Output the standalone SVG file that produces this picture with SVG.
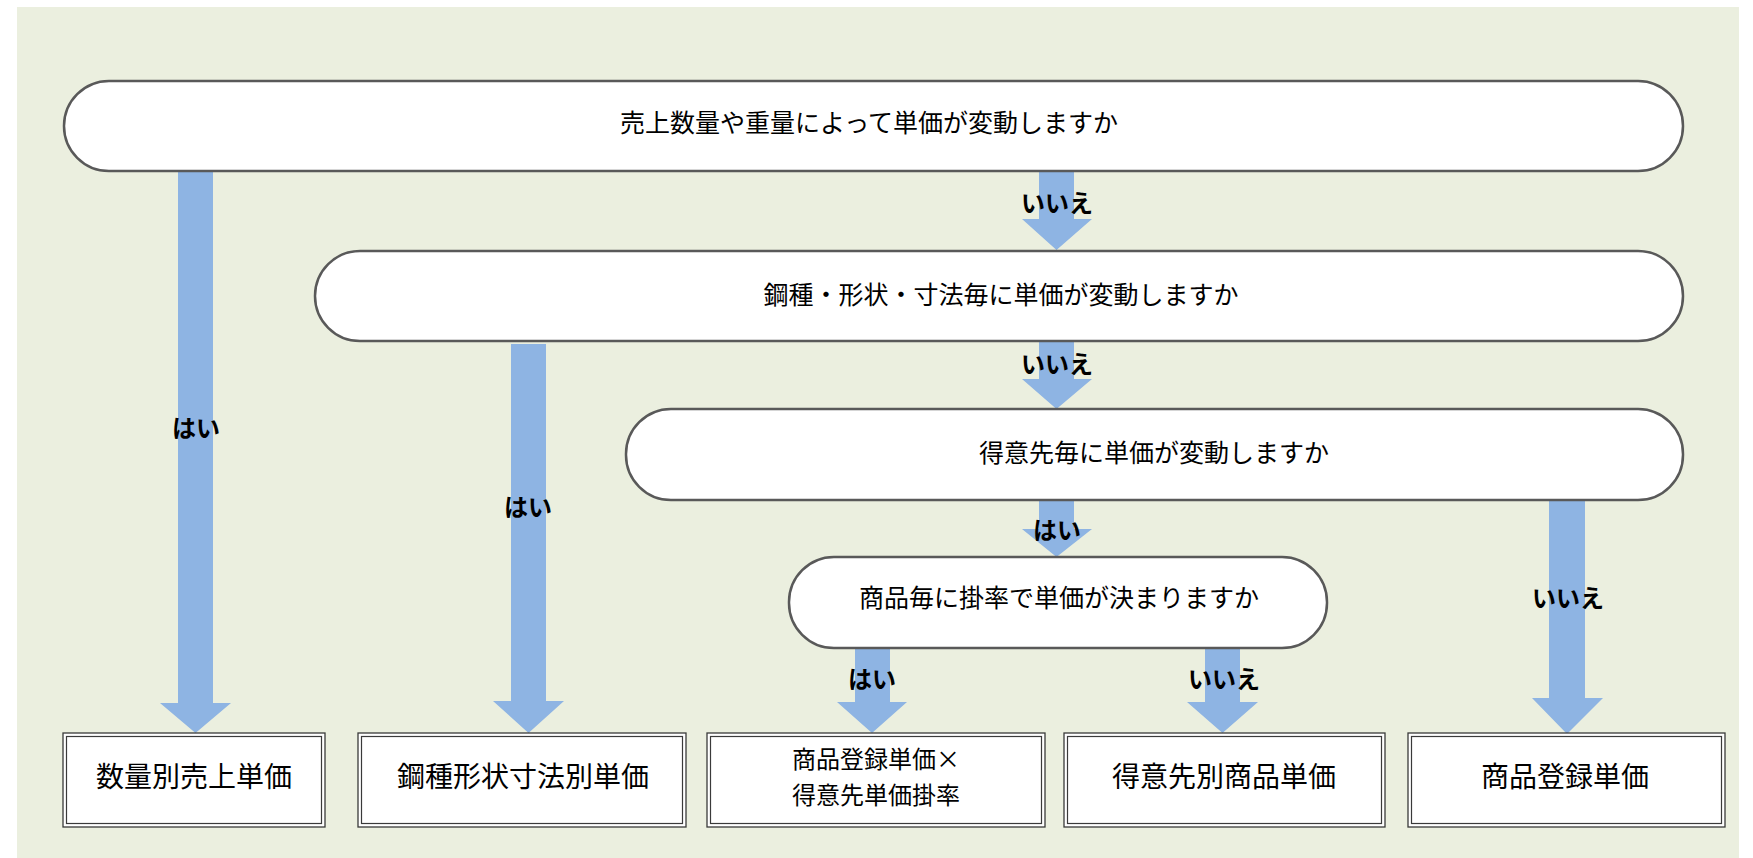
<svg xmlns="http://www.w3.org/2000/svg" width="1753" height="858" viewBox="0 0 1753 858">
<style>
.pill{fill:#fff;stroke:#595959;stroke-width:2.5}
.box{fill:#fff;stroke:#3a3a3a;stroke-width:1.3}
.inner{fill:none;stroke:#3a3a3a;stroke-width:1.2}
.arr{fill:#8EB4E3}
.t{font-family:"Noto Sans CJK JP","Noto Sans",sans-serif;fill:#000;text-anchor:middle;dominant-baseline:central}
.n{font-size:25px}
.b{font-size:28px}
.b2{font-size:24px}
.l{font-size:24px;font-weight:bold}
</style>
<rect x="0" y="0" width="1753" height="858" fill="#fff"/>
<rect x="17" y="7" width="1722" height="851" fill="#EBEFDF"/>
<g id="connectors">
<polygon class="arr" points="178,171 213,171 213,703 231,703 195.5,733 160,703 178,703"/>
<polygon class="arr" points="511,344 546,344 546,701 564,701 528.5,733 493,701 511,701"/>
<polygon class="arr" points="1039,171 1074,171 1074,219 1092,219 1056.5,250 1022,219 1039,219"/>
<polygon class="arr" points="1039,341 1074,341 1074,379 1092,379 1056.5,409 1022,379 1039,379"/>
<polygon class="arr" points="1039,500 1074,500 1074,529 1092,529 1056.5,557 1022,529 1039,529"/>
<polygon class="arr" points="1549,500 1585,500 1585,698 1603,698 1567,734 1532,698 1549,698"/>
<polygon class="arr" points="855,648 890,648 890,702 907,702 872,733 837,702 855,702"/>
<polygon class="arr" points="1205,648 1240,648 1240,702 1258,702 1222.5,733 1187,702 1205,702"/>
<text class="t l" x="1057" y="201">いいえ</text>
<text class="t l" x="1057" y="362">いいえ</text>
<text class="t l" x="1057" y="528">はい</text>
<text class="t l" x="196" y="426">はい</text>
<text class="t l" x="528" y="505">はい</text>
<text class="t l" x="1568" y="596">いいえ</text>
<text class="t l" x="872" y="677">はい</text>
<text class="t l" x="1224" y="677">いいえ</text>
</g>
<g id="q1">
<rect class="pill" x="64" y="81" width="1619" height="90" rx="45"/>
<text class="t n" x="869" y="121">売上数量や重量によって単価が変動しますか</text>
</g>
<g id="q2">
<rect class="pill" x="315" y="251" width="1368" height="90" rx="45"/>
<text class="t n" x="1001" y="293">鋼種・形状・寸法毎に単価が変動しますか</text>
</g>
<g id="q3">
<rect class="pill" x="626" y="409" width="1057" height="91" rx="45"/>
<text class="t n" x="1154" y="451">得意先毎に単価が変動しますか</text>
</g>
<g id="q4">
<rect class="pill" x="789" y="557" width="538" height="91" rx="45"/>
<text class="t n" x="1059" y="596">商品毎に掛率で単価が決まりますか</text>
</g>
<g id="r1">
<rect class="box" x="63" y="733" width="262" height="94"/>
<rect class="inner" x="66.5" y="736.5" width="255" height="87"/>
<text class="t b" x="194" y="775">数量別売上単価</text>
</g>
<g id="r2">
<rect class="box" x="358" y="733" width="328" height="94"/>
<rect class="inner" x="361.5" y="736.5" width="321" height="87"/>
<text class="t b" x="523" y="775">鋼種形状寸法別単価</text>
</g>
<g id="r3">
<rect class="box" x="707" y="733" width="338" height="94"/>
<rect class="inner" x="710.5" y="736.5" width="331" height="87"/>
<text class="t b2" x="876" y="757">商品登録単価×</text>
<text class="t b2" x="876" y="793">得意先単価掛率</text>
</g>
<g id="r4">
<rect class="box" x="1064" y="733" width="321" height="94"/>
<rect class="inner" x="1067.5" y="736.5" width="314" height="87"/>
<text class="t b" x="1224" y="775">得意先別商品単価</text>
</g>
<g id="r5">
<rect class="box" x="1408" y="733" width="317" height="94"/>
<rect class="inner" x="1411.5" y="736.5" width="310" height="87"/>
<text class="t b" x="1565" y="775">商品登録単価</text>
</g>
</svg>
